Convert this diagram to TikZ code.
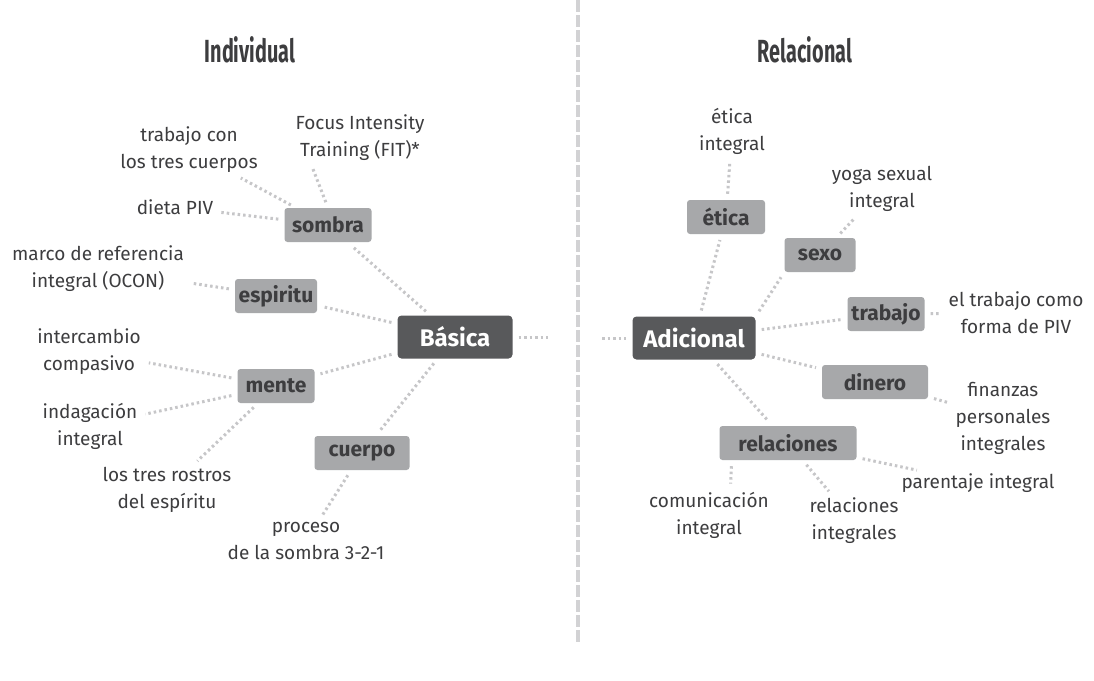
\documentclass[tikz,border=0pt]{standalone}
\usepackage{fontspec}
\setmainfont{Fira Sans}
\usepackage{graphicx}
\definecolor{boxdark}{HTML}{58595B}
\definecolor{boxgray}{HTML}{A7A8AA}
\definecolor{txtgray}{HTML}{3D3D3F}
\definecolor{dotgray}{HTML}{C6C6C8}
\definecolor{linegray}{HTML}{D2D2D4}
\begin{document}
\begin{tikzpicture}[x=1pt, y=-1pt,
  every node/.style={text=txtgray},
  leaf/.style={align=center, inner sep=2pt, font=\fontsize{19}{27}\selectfont},
  hub/.style={fill=boxdark, text=white, rounded corners=4pt, minimum height=43pt, font=\fontsize{24}{28}\selectfont\bfseries},
  topic/.style={fill=boxgray, rounded corners=3pt, minimum height=34pt, font=\fontsize{21}{24}\selectfont\bfseries},
  heading/.style={font=\fontsize{32}{36}\selectfont\bfseries},
  twig/.style={dotgray, line width=3pt, dash pattern=on 2.5pt off 3pt, shorten <=6pt, shorten >=6pt}]
\useasboundingbox[fill=white] (0,0) rectangle (1094,680);

\node[heading] (ind) at (250,50) {\scalebox{0.62}[1]{Individual}};
\node[heading] (rel) at (805,50) {\scalebox{0.62}[1]{Relacional}};
\draw[linegray, line width=3.5pt, dash pattern=on 12pt off 3pt] (578,0) -- (578,643);

\node[hub, minimum width=115pt] (basica) at (455,337) {Básica};
\node[hub, minimum width=123pt] (adicional) at (694,338) {Adicional};
\coordinate (gapl) at (554,337);
\coordinate (gapr) at (596,338);
\draw[twig] (basica) -- (gapl);
\draw[twig] (gapr) -- (adicional);

\node[topic, minimum width=87pt] (sombra) at (328,225) {sombra};
\node[topic, minimum width=82pt] (espiritu) at (276,296) {espiritu};
\node[topic, minimum width=77pt] (mente) at (276,386) {mente};
\node[topic, minimum width=95pt] (cuerpo) at (362,453) {cuerpo};

\node[leaf] (cuerpos) at (189,150) {trabajo con\\los tres cuerpos};
\node[leaf] (fit) at (360,138) {Focus Intensity\\Training (FIT)*};
\node[leaf] (dieta) at (175,207) {dieta PIV};
\node[leaf] (marco) at (98,269) {marco de referencia\\integral (OCON)};
\node[leaf] (intercambio) at (89,352) {intercambio\\compasivo};
\node[leaf] (indagacion) at (90,426) {indagación\\integral};
\node[leaf] (rostros) at (167,490) {los tres rostros\\del espíritu};
\node[leaf] (proceso) at (306,541) {proceso\\de la sombra 3-2-1};

\draw[twig] (basica) -- (sombra);
\draw[twig] (basica) -- (espiritu);
\draw[twig] (basica) -- (mente);
\draw[twig] (basica) -- (cuerpo);
\draw[twig] (sombra) -- (cuerpos);
\draw[twig] (sombra.north) -- (fit.207);
\draw[twig] (sombra) -- (dieta);
\draw[twig] (espiritu) -- (marco);
\draw[twig] (mente) -- (intercambio);
\draw[twig] (mente) -- (indagacion);
\draw[twig] (mente) -- (rostros);
\draw[twig] (cuerpo) -- (proceso);

\node[topic, minimum width=78pt] (etica) at (726,217) {ética};
\node[topic, minimum width=71pt] (sexo) at (820,255) {sexo};
\node[topic, minimum width=77pt] (trabajo) at (886,314) {trabajo};
\node[topic, minimum width=106pt] (dinero) at (875,382) {dinero};
\node[topic, minimum width=137pt] (relaciones) at (788,443) {relaciones};

\node[leaf] (eticaint) at (732,131) {ética\\integral};
\node[leaf] (yoga) at (882,189) {yoga sexual\\integral};
\node[leaf] (forma) at (1016,313) {el trabajo como\\forma de PIV};
\node[leaf] (finanzas) at (1003,418) {finanzas\\personales\\integrales};
\node[leaf] (parentaje) at (978,483) {parentaje integral};
\node[leaf] (comunicacion) at (709,515) {comunicación\\integral};
\node[leaf] (relint) at (854,521) {relaciones\\integrales};

\draw[twig] (adicional) -- (etica);
\draw[twig] (adicional.north east) -- (sexo.south west);
\draw[twig] (adicional) -- (trabajo);
\draw[twig] (adicional) -- (dinero);
\draw[twig] (adicional) -- (relaciones);
\draw[twig] (etica) -- (eticaint);
\draw[twig] (sexo) -- (yoga);
\draw[twig] (trabajo) -- (forma);
\draw[twig] (dinero) -- (finanzas);
\draw[twig] (relaciones) -- (parentaje);
\draw[twig] (relaciones) -- (relint);
\draw[twig] (relaciones.197) -- (comunicacion.50);
\end{tikzpicture}
\end{document}
